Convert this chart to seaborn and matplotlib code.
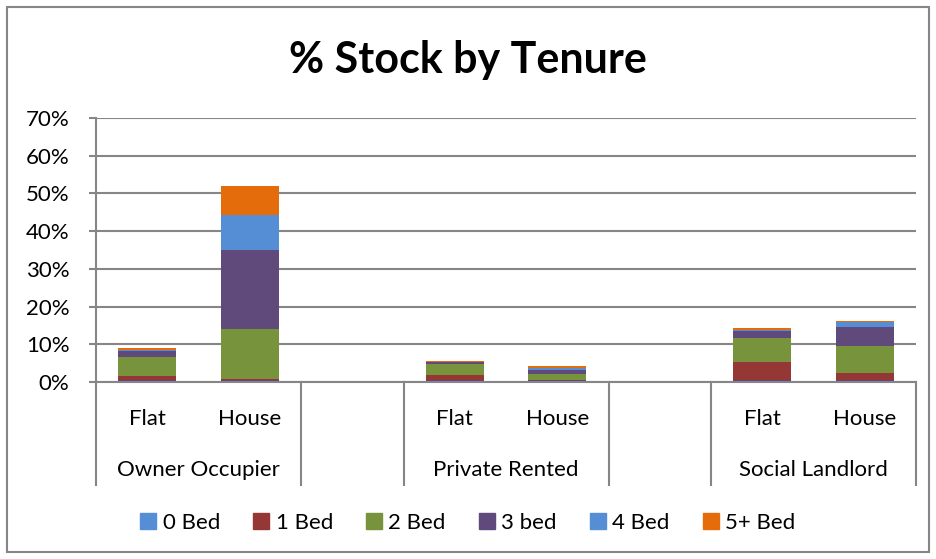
import pandas as pd
import seaborn as sns
import matplotlib.pyplot as plt
from matplotlib.patches import Rectangle
from matplotlib.transforms import blended_transform_factory

# stock by tenure and dwelling type (%)
tenures = ['Owner Occupier', 'Private Rented', 'Social Landlord']
types = ['Flat', 'House']
beds = ['0 Bed', '1 Bed', '2 Bed', '3 bed', '4 Bed', '5+ Bed']
bed_colors = ['#558ED5', '#953735', '#77933C', '#604A7B', '#558ED5', '#E46C0A']

bed0 = [0.2, 0.2, 0.3, 0.2, 0.3, 0.3]
bed1 = [1.5, 0.6, 1.5, 0.3, 4.9, 2.2]
bed2 = [4.9, 13.3, 2.9, 1.5, 6.4, 7.0]
bed3 = [1.5, 21.0, 0.5, 1.2, 2.0, 5.1]
bed4 = [0.3, 9.1, 0.2, 0.6, 0.1, 1.2]
bed5 = [0.5, 7.9, 0.3, 0.4, 0.5, 0.5]

slots = ['OO Flat', 'OO House', 'PR Flat', 'PR House', 'SL Flat', 'SL House']
order = ['OO Flat', 'OO House', 'gap1', 'PR Flat', 'PR House', 'gap2', 'SL Flat', 'SL House']

df = pd.DataFrame({'slot': slots, '0 Bed': bed0, '1 Bed': bed1, '2 Bed': bed2,
                   '3 bed': bed3, '4 Bed': bed4, '5+ Bed': bed5})
cum = df[beds].cumsum(axis=1)
cum['slot'] = df['slot']

plt.rcParams['font.family'] = ['Lato', 'DejaVu Sans']
grey = '#868686'
fs = 16

fig = plt.figure(figsize=(9.36, 5.59), dpi=100)
ax = fig.add_axes([96 / 936, 177 / 559, 820 / 936, 264 / 559])

# draw stacked bars top-down so each lower segment covers the one above
for bed, color in reversed(list(zip(beds, bed_colors))):
    sns.barplot(data=cum, x='slot', y=bed, order=order, color=color,
                width=0.57, saturation=1, errorbar=None, ax=ax, zorder=3)

ax.set_xlim(-0.5, 7.5)
ax.set_ylim(0, 70)
ax.set_yticks(range(0, 71, 10))
ax.set_yticklabels([f'{v}%' for v in range(0, 71, 10)], fontsize=fs)
ax.yaxis.grid(True, color=grey, linewidth=1.5)
ax.set_axisbelow(True)
ax.tick_params(axis='y', length=5, color=grey, width=1.5, pad=14)
ax.tick_params(axis='x', bottom=False, labelbottom=False)
ax.set_xlabel('')
ax.set_ylabel('')
for side in ['top', 'right']:
    ax.spines[side].set_visible(False)
for side in ['left', 'bottom']:
    ax.spines[side].set_color(grey)
    ax.spines[side].set_linewidth(1.5)

# two-level category axis
trans = blended_transform_factory(ax.transData, ax.transAxes)
for xs in [-0.5, 1.5, 2.5, 4.5, 5.5, 7.5]:
    ax.plot([xs, xs], [0, -103 / 264], color=grey, lw=1.5, transform=trans, clip_on=False)
type_pos = [0, 1, 3, 4, 6, 7]
for i, xp in enumerate(type_pos):
    ax.text(xp, -37 / 264, types[i % 2], transform=trans, ha='center', va='center', fontsize=fs)
for t, xp in zip(tenures, [0.5, 3.5, 6.5]):
    ax.text(xp, -88 / 264, t, transform=trans, ha='center', va='center', fontsize=fs)

fig.text(0.5, (559 - 60) / 559, '% Stock by Tenure', ha='center', va='center',
         fontsize=31, fontweight='bold')

handles = [Rectangle((0, 0), 1, 1, color=c) for c in bed_colors]
fig.legend(handles, beds, loc='center', bbox_to_anchor=(0.5, (559 - 523) / 559),
           ncol=6, frameon=False, fontsize=fs, handlelength=0.7, handleheight=0.7,
           handletextpad=0.3, columnspacing=1.5)

fig.patches.append(Rectangle((7 / 936, 7 / 559), 922 / 936, 545 / 559, fill=False,
                             edgecolor=grey, lw=1.5, transform=fig.transFigure))

fig.savefig('out.png', dpi=100)
